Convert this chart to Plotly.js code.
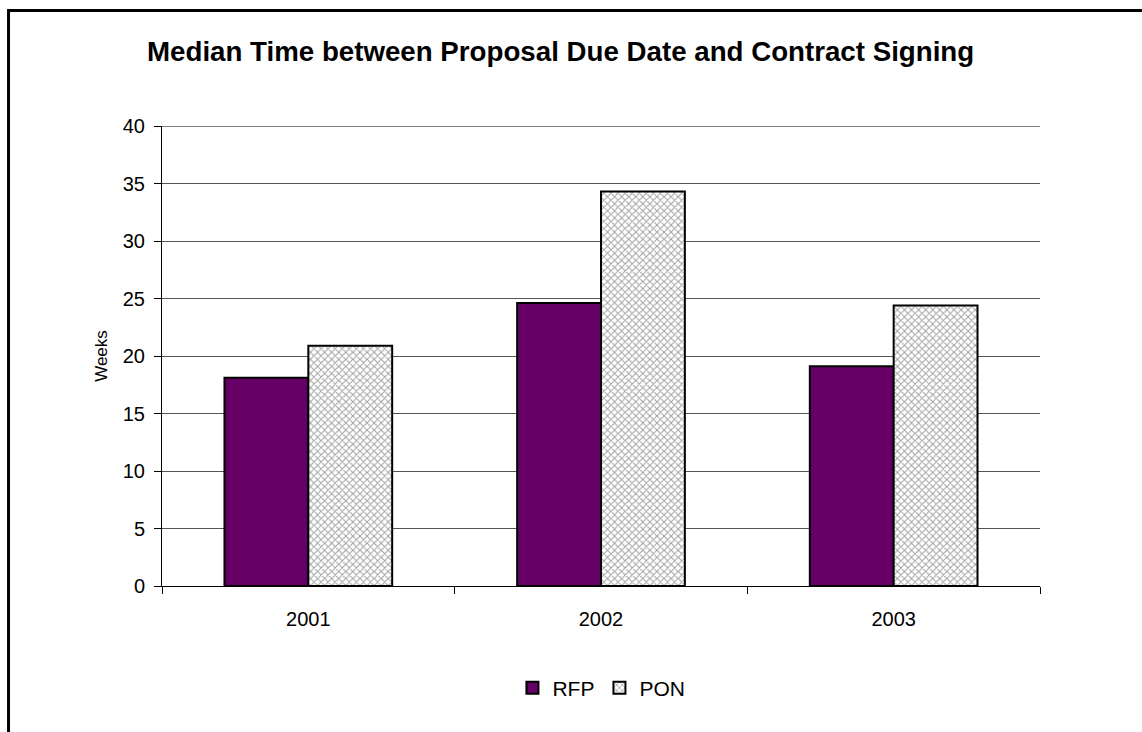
<!DOCTYPE html>
<html>
<head>
<meta charset="utf-8">
<script src="https://cdn.plot.ly/plotly-3.0.1.min.js"></script>
<style>
html,body{margin:0;padding:0;background:#fff;}
#chart{width:1142px;height:732px;}
</style>
</head>
<body>
<div id="chart"></div>
<script>
const years = ["2001", "2002", "2003"];
const rfpValues = [18.1, 24.6, 19.1];
const ponValues = [20.9, 34.3, 24.4];
const yTicks = [0, 5, 10, 15, 20, 25, 30, 35, 40];

const traces = [
  {
    type: "bar", name: "RFP", x: years, y: rfpValues,
    marker: {color: "#660066", line: {color: "#000", width: 2}}
  },
  {
    type: "bar", name: "PON", x: years, y: ponValues,
    marker: {
      color: "#ffffff",
      line: {color: "#000", width: 2},
      pattern: {shape: "x", fgcolor: "#a0a0a0", bgcolor: "#ffffff", size: 5, solidity: 0.35, fillmode: "replace"}
    }
  }
];

const layout = {
  width: 1142, height: 732,
  margin: {l: 162, r: 102, t: 126, b: 146},
  paper_bgcolor: "#fff", plot_bgcolor: "#fff",
  font: {family: "Liberation Sans, Arial, sans-serif", color: "#000", size: 20},
  title: {
    text: "<b>Median Time between Proposal Due Date and Contract Signing</b>",
    font: {size: 27.7, family: "Liberation Sans, Arial, sans-serif", color: "#000"},
    xref: "paper", x: 0.454, xanchor: "center",
    yref: "container", y: 0.93, yanchor: "middle"
  },
  barmode: "group", bargap: 0.427, bargroupgap: 0,
  xaxis: {
    type: "category",
    showline: true, linecolor: "#000", linewidth: 1,
    ticks: "outside", tickson: "boundaries", ticklen: 7, tickcolor: "#000",
    showgrid: false, zeroline: false,
    tickfont: {size: 20}, ticklabelstandoff: 15
  },
  yaxis: {
    range: [0, 40], tickvals: yTicks, ticktext: yTicks.map(String),
    showline: true, linecolor: "#000", linewidth: 1,
    ticks: "outside", ticklen: 7, tickcolor: "#000",
    showgrid: true, gridcolor: "#555", gridwidth: 1,
    zeroline: false,
    tickfont: {size: 20}, ticklabelstandoff: 5,
    title: {text: "Weeks", font: {size: 17}, standoff: 10}
  },
  legend: {
    orientation: "h", xref: "paper", yref: "paper",
    x: 0.5005, xanchor: "center", y: -0.222, yanchor: "middle",
    font: {size: 21}, itemwidth: 30, traceorder: "normal"
  },
  shapes: [
    {type: "line", xref: "paper", yref: "paper", x0: -0.1748, x1: -0.1748, y0: 1.2511, y1: -0.35, line: {color: "#000", width: 3}},
    {type: "line", xref: "paper", yref: "paper", x0: -0.1765, x1: 1.13, y0: 1.2511, y1: 1.2511, line: {color: "#000", width: 3}},
    {type: "line", xref: "paper", yref: "y", x0: 0, x1: 1, y0: 40, y1: 40, line: {color: "#000", width: 1}}
  ]
};

Plotly.newPlot("chart", traces, layout, {displayModeBar: false, staticPlot: true});
</script>
</body>
</html>
